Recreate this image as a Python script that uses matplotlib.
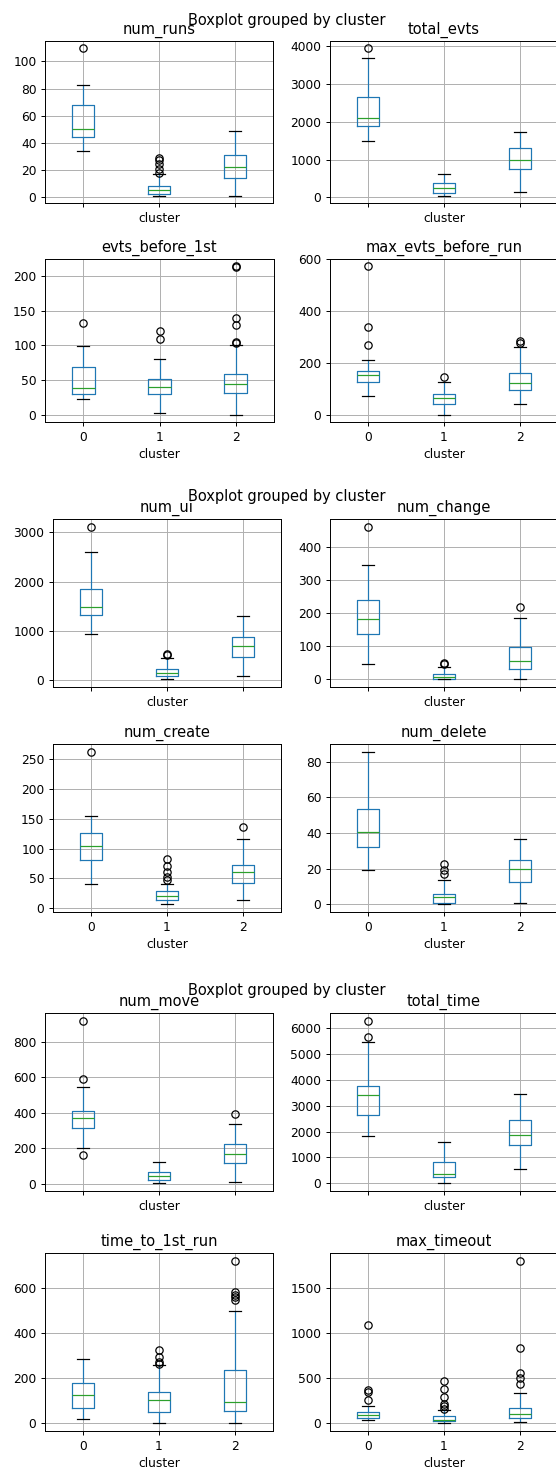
import matplotlib
matplotlib.use("Agg")
import matplotlib.pyplot as plt

clusters = ["0", "1", "2"]
variables = ["num_runs", "total_evts", "evts_before_1st", "max_evts_before_run",
             "num_ui", "num_change", "num_create", "num_delete",
             "num_move", "total_time", "time_to_1st_run", "max_timeout"]

# per variable: values for clusters 0, 1, 2
q1 = [[44, 2, 13.8], [1898, 124, 750], [30, 30, 31.5], [125, 41, 97],
      [1314, 88, 474], [139, 2, 30], [81.7, 14, 42.5], [32.1, 0.8, 12.8],
      [314, 21, 116], [2625, 233, 1487], [67, 50.5, 53.5], [55, 22, 52]]
med = [[49.9, 4.9, 22.4], [2093, 247, 980], [37.8, 39.7, 44], [152, 64, 122],
       [1490, 142, 697], [183, 6, 56.6], [105, 21.3, 61], [40.8, 3.9, 19.7],
       [370, 43, 167], [3414, 375, 1862], [123, 102.5, 92], [85, 37, 96]]
q3 = [[67.8, 8.1, 31], [2658, 380, 1298], [68.3, 50.8, 58.6], [169, 82, 161],
      [1855, 230, 880], [242, 17, 99], [125.3, 28.5, 73.3], [53.7, 6, 24.8],
      [409, 69.5, 225], [3763, 828, 2457], [178, 138, 235], [126, 74, 166]]
whislo = [[33.9, 1, 1], [1492, 44, 141], [21.8, 1.9, 0], [72, 1, 41],
          [941, 14, 88], [47, 0, 2], [40.8, 6.7, 13.4], [19, 0, 0.9],
          [203, 5.6, 13], [1836, 13, 556], [19, 0, 0], [30, 0, 7]]
whishi = [[82.8, 17.2, 48.9], [3700, 618, 1722], [99.3, 80.4, 99.8], [211, 126, 260],
          [2594, 440, 1300], [348, 38, 185], [153.8, 40.8, 115.8], [85.6, 13.9, 36.8],
          [546, 124, 336], [5457, 1603, 3453], [284, 258, 500], [188, 148, 329]]
fliers = [
    [[109.6], [18, 21, 24, 27, 29], []],
    [[3947], [], []],
    [[131.7], [108.5, 120.6], [102.7, 105, 128.8, 139.5, 212.6, 214]],
    [[270, 337, 572], [145.5], [278, 283]],
    [[3115], [508, 528], []],
    [[463], [45.5, 49.5], [219]],
    [[262.3], [48, 52, 61, 71, 82], [137]],
    [[], [17.1, 19.5, 22.9], []],
    [[160, 591.5, 916], [], [390.6]],
    [[5664, 6272], [], []],
    [[], [264, 272, 294, 325], [546, 561, 567, 582, 720]],
    [[255, 343, 362, 1086], [160, 190, 215, 290, 380, 470], [432, 499, 558, 835, 1800]],
]

W, H = 556, 1470
DPI = 88
fig = plt.figure(figsize=(W / DPI, H / DPI), dpi=DPI)

# axes boxes in pixels: (x0, x1, y_top, y_bottom)
boxes_px = [
    (45, 273, 41, 203), (330, 558, 41, 203),
    (45, 274, 259, 422), (330, 558, 259, 422),
    (53, 281, 519, 687), (330, 558, 519, 687),
    (53, 281, 744, 912), (330, 558, 744, 912),
    (45, 273, 1013, 1191), (330, 558, 1013, 1191),
    (45, 273, 1253, 1431), (330, 558, 1253, 1431),
]
suptitle_y = [20, 497, 990]

for i, var in enumerate(variables):
    x0, x1, yt, yb = boxes_px[i]
    ax = fig.add_axes([x0 / W, 1 - yb / H, (x1 - x0) / W, (yb - yt) / H])
    stats = []
    for c in range(3):
        stats.append(dict(med=med[i][c], q1=q1[i][c], q3=q3[i][c],
                          whislo=whislo[i][c], whishi=whishi[i][c],
                          fliers=fliers[i][c], label=clusters[c]))
    ax.bxp(stats, positions=[1, 2, 3],
           boxprops=dict(color="C0"), whiskerprops=dict(color="C0"),
           medianprops=dict(color="C2"), capprops=dict(color="k"),
           flierprops=dict(marker="o", markerfacecolor="none",
                           markeredgecolor="k", markersize=6))
    ax.set_xlim(0.5, 3.5)
    ax.set_xticks([1, 2, 3])
    ax.set_xticklabels(clusters)
    ax.grid(True)
    ax.set_title(var)
    ax.set_xlabel("cluster")
    if (i % 4) < 2:
        ax.tick_params(labelbottom=False)

for y in suptitle_y:
    fig.text(287 / W, 1 - y / H, "Boxplot grouped by cluster",
             ha="center", va="center", fontsize=12)

fig.savefig("out.png", dpi=DPI)
